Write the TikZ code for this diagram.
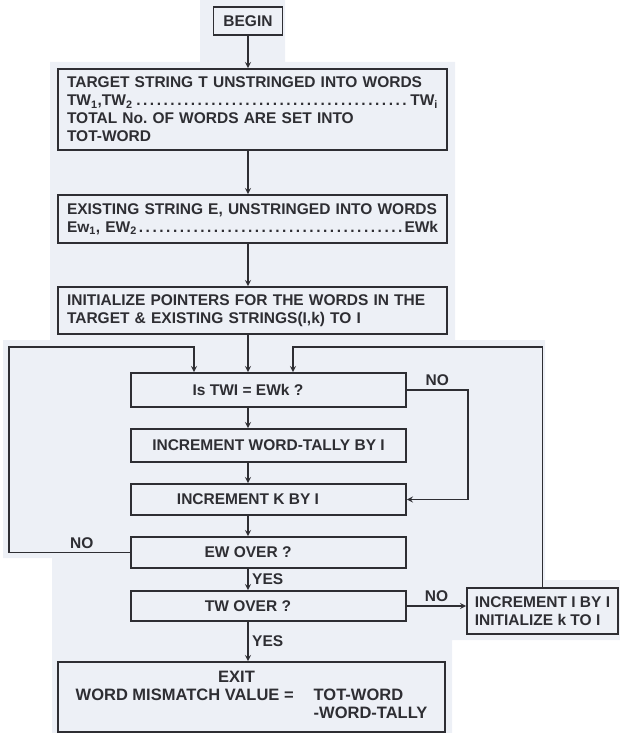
\documentclass[tikz,border=0pt]{standalone}
\usepackage{fontspec}
\setmainfont{Liberation Sans}
\usetikzlibrary{positioning}
\usepackage{xcolor}
\definecolor{ink}{HTML}{2E2E33}
\definecolor{paper}{HTML}{EDF0F6}
\frenchspacing

\begin{document}
\begin{tikzpicture}[>=stealth,x=1pt,y=1pt,on grid,line width=1.7pt,color=ink,
	font=\fontsize{15.5}{18}\selectfont\bfseries]
\tikzstyle{blk}=[rectangle,draw=ink,line width=1.7pt,inner xsep=9pt,inner ysep=2pt]
\tikzstyle{wide}=[blk,align=left,text width=371pt]
\tikzstyle{mid}=[blk,minimum width=275pt]
\tikzstyle{lshift}=[execute at begin node={\hspace*{-41pt}}]

	\useasboundingbox (0,0) rectangle (620,-733);
	% scanned paper
	\fill[paper] (200,0) -- (285,0) -- (285,-62) -- (455,-62) -- (455,-340) -- (545,-340)
		-- (545,-580) -- (620,-580) -- (620,-640) -- (452,-640) -- (452,-733) -- (52,-733)
		-- (52,-558) -- (3,-558) -- (3,-340) -- (50,-340) -- (50,-62) -- (200,-62) -- cycle;

	\node[blk,minimum width=69pt,minimum height=28pt] (s_0) at (248,-21) {BEGIN};
	\node[wide,minimum height=81pt] (s_1) [below right=88.5pt and 4.5pt of s_0]
		{TARGET STRING T UNSTRINGED INTO WORDS\\
		 TW\textsubscript{1},TW\textsubscript{2}\dotfill TW\textsubscript{i}\\
		 TOTAL No. OF WORDS ARE SET INTO\\
		 TOT-WORD};
	\node[wide,minimum height=48pt] (s_2) [below=109.5pt of s_1]
		{EXISTING STRING E, UNSTRINGED INTO WORDS\\
		 Ew\textsubscript{1}, EW\textsubscript{2}\dotfill EWk};
	\node[wide,minimum height=47pt] (s_3) [below=91.5pt of s_2]
		{INITIALIZE POINTERS FOR THE WORDS IN THE\\
		 TARGET \& EXISTING STRINGS(I,k) TO I};
	\node[mid,lshift,minimum height=34pt] (s_4) [below right=79.5pt and 16pt of s_3] {Is TWI = EWk ?};
	\node[mid,minimum height=33pt] (s_5) [below=55.5pt of s_4] {INCREMENT WORD-TALLY BY I};
	\node[mid,lshift,minimum height=31pt] (s_6) [below=54pt of s_5] {INCREMENT K BY I};
	\node[mid,lshift,minimum height=31pt] (s_7) [below=53pt of s_6] {EW OVER ?};
	\node[mid,lshift,minimum height=30pt] (s_8) [below=53.5pt of s_7] {TW OVER ?};
	\node[blk,minimum width=387pt,minimum height=70pt,font=\fontsize{16.5}{18}\selectfont\bfseries]
		(s_9) [below left=91pt and 17pt of s_8]
		{\begin{tabular}{@{}r@{\hspace{20pt}}l@{}}
		 \multicolumn{2}{c}{\hspace*{-30pt}EXIT}\\
		 WORD MISMATCH VALUE = & TOT-WORD\\
		 & -WORD-TALLY
		 \end{tabular}};
	\node[blk,align=left,inner xsep=5pt,minimum width=151pt,minimum height=46pt] (s_10)
		[below right=5pt and 274pt of s_8] {INCREMENT I BY I\\ INITIALIZE k TO I};

	\coordinate (l_top) at (9,-347);

	\path[->]	(s_0) edge (s_1.north -| s_0)
				(s_1.south -| s_0) edge (s_2.north -| s_0)
				(s_2.south -| s_0) edge (s_3.north -| s_0)
				(s_3.south -| s_0) edge (s_4.north -| s_0)
				(s_4.south -| s_0) edge (s_5.north -| s_0)
				(s_5.south -| s_0) edge (s_6.north -| s_0)
				(s_6.south -| s_0) edge (s_7.north -| s_0)
				(s_7.south -| s_0) edge node[right] {YES} (s_8.north -| s_0)
				(s_8.south -| s_0) edge node[right] {YES} (s_9.north -| s_0)
				(s_8.east) edge node[above] {NO} (s_10.west |- s_8.east);

	\draw[->] (s_4.east) -- node[above] {NO} ++(61pt,0) |- (s_6.east);
	\draw[->] (s_7.west) -- node[above,pos=0.4] {NO} (s_7.west -| l_top) -- (l_top)
		-| ([xshift=-74.5pt]s_4.north);
	\draw[->] (s_10.north) -- (s_10.north |- l_top) -| ([xshift=24.5pt]s_4.north);
\end{tikzpicture}
\end{document}
